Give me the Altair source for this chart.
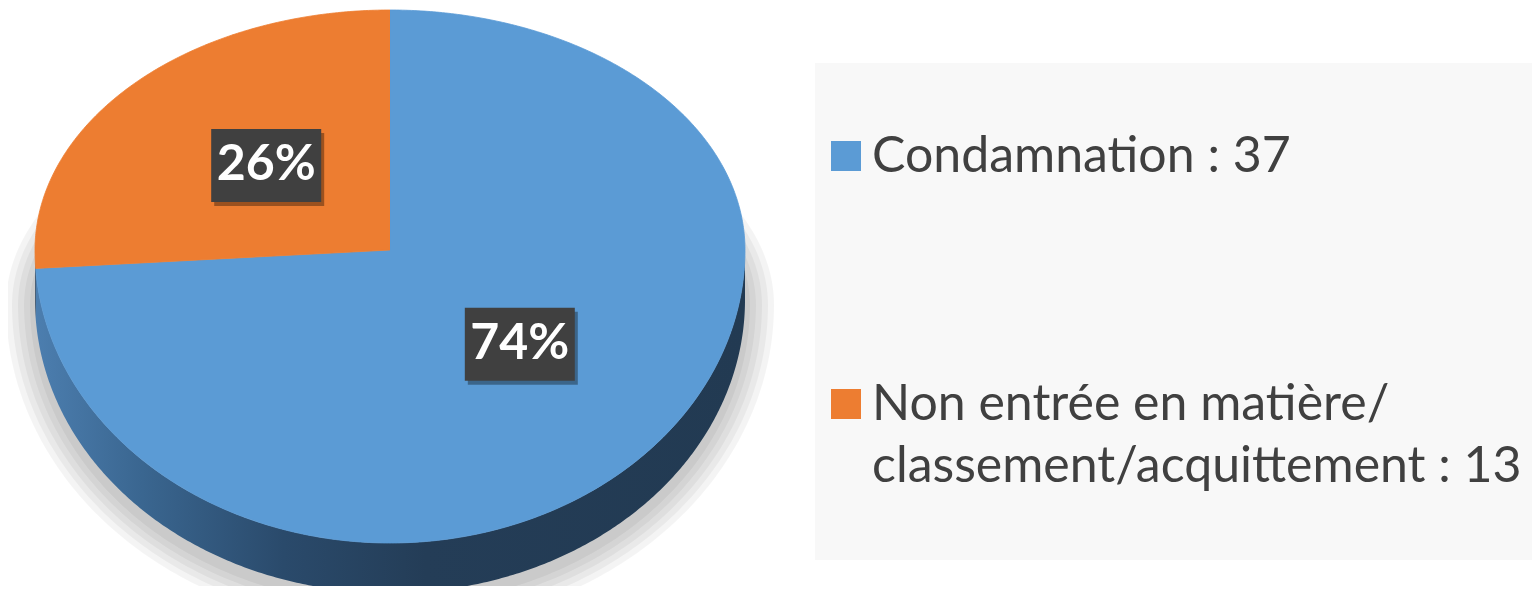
import math
import altair as alt
import pandas as pd

# ---------------- data ----------------
categories = ["Condamnation", "Non entrée en matière/\nclassement/acquittement"]
counts = [37, 13]
slice_colors = ["#5b9bd5", "#ed7d31"]

# ---------------- geometry (image pixel space) ----------------
CX, CY = 390.0, 250.0
RX, RY_TOP, RY_BOT = 355.0, 240.0, 293.0
DEPTH = 50.0
LABEL_FRAC = 0.49


def ell(theta_deg, rx=RX, ry_top=RY_TOP, ry_bot=RY_BOT, cx=CX, cy=CY):
    t = math.radians(theta_deg)
    c = math.cos(t)
    ry = ry_top if c > 0 else ry_bot
    return cx + rx * math.sin(t), cy - ry * c


total = sum(counts)
starts, ends = [], []
acc = 0.0
for v in counts:
    starts.append(acc / total * 360.0)
    acc += v
    ends.append(acc / total * 360.0)

# top faces
top_rows = []
for cat, a, b in zip(categories, starts, ends):
    top_rows.append({"cat": cat, "o": 0, "x": CX, "y": CY})
    n = max(2, int((b - a) * 2))
    for i in range(n + 1):
        x, y = ell(a + (b - a) * i / n)
        top_rows.append({"cat": cat, "o": i + 1, "x": x, "y": y})
top_df = pd.DataFrame(top_rows)

# visible side (front half: 90..270 degrees)
side_rows = []
for cat, a, b in zip(categories, starts, ends):
    lo, hi = max(a, 90.0), min(b, 270.0)
    if hi <= lo:
        continue
    n = max(2, int((hi - lo) * 2))
    o = 0
    for i in range(n + 1):
        x, y = ell(lo + (hi - lo) * i / n)
        side_rows.append({"cat": cat, "o": o, "x": x, "y": y}); o += 1
    for i in range(n + 1):
        x, y = ell(hi - (hi - lo) * i / n)
        side_rows.append({"cat": cat, "o": o, "x": x, "y": y + DEPTH}); o += 1
side_df = pd.DataFrame(side_rows)

# soft shadow: stacked translucent ellipses
shadow_rows = []
for k, e in enumerate([0, 6, 12, 18, 24]):
    for i in range(361):
        x, y = ell(i, rx=360 + e, ry_top=200 + e, ry_bot=300 + e, cy=305)
        shadow_rows.append({"k": k, "o": i, "x": x, "y": y})
shadow_df = pd.DataFrame(shadow_rows)

# percentage labels
lab_rows = []
for cat, v, a, b in zip(categories, counts, starts, ends):
    m = (a + b) / 2
    t = math.radians(m)
    c = math.cos(t)
    ry = RY_TOP if c > 0 else RY_BOT
    lab_rows.append({
        "cat": cat,
        "x": CX + LABEL_FRAC * RX * math.sin(t),
        "y": CY - LABEL_FRAC * ry * c,
        "pct": f"{round(v / total * 100)}%",
    })
lab_df = pd.DataFrame(lab_rows)

leg_df = pd.DataFrame({
    "cat": categories,
    "label": [f"{c} : {v}" for c, v in zip(categories, counts)],
})

# ---------------- scales ----------------
W, H = 1524, 578
xs = alt.Scale(domain=[8, 8 + W], nice=False, zero=False)
ys = alt.Scale(domain=[8, 8 + H], nice=False, zero=False, reverse=True)
X = alt.X("x:Q", scale=xs, axis=None)
Y = alt.Y("y:Q", scale=ys, axis=None)
fill_scale = alt.Scale(domain=categories, range=slice_colors)

shadow = alt.Chart(shadow_df).mark_line(
    fill="#000000", fillOpacity=0.045, strokeWidth=0
).encode(x=X, y=Y, detail="k:N", order="o:Q")

side = alt.Chart(side_df).mark_line(
    strokeWidth=0,
    fill=alt.Gradient(
        gradient="linear",
        x1=0, x2=1, y1=0, y2=0,
        stops=[
            alt.GradientStop(color="#4c7eaf", offset=0),
            alt.GradientStop(color="#3a6690", offset=0.15),
            alt.GradientStop(color="#2a4a6b", offset=0.35),
            alt.GradientStop(color="#243d57", offset=0.55),
            alt.GradientStop(color="#223a52", offset=1),
        ],
    ),
).encode(x=X, y=Y, detail="cat:N", order="o:Q")

top = alt.Chart(top_df).mark_line(strokeWidth=0.8).encode(
    x=X, y=Y,
    fill=alt.Fill("cat:N", scale=fill_scale, legend=None),
    stroke=alt.Stroke("cat:N", scale=fill_scale, legend=None),
    detail="cat:N",
    order="o:Q",
)

box_shadow = alt.Chart(lab_df).mark_rect(
    width=110, height=73, color="#000000", opacity=0.35, xOffset=6, yOffset=0
).encode(x=X, y=Y)

box = alt.Chart(lab_df).mark_rect(
    width=110, height=73, color="#404040", xOffset=3, yOffset=-4
).encode(x=X, y=Y)

pct = alt.Chart(lab_df).mark_text(
    font="Lato", fontSize=50, fontWeight="bold", color="white",
    align="center", baseline="middle", dx=3, dy=-4,
).encode(x=X, y=Y, text="pct:N")

# ---------------- legend ----------------
leg_bg = alt.Chart(leg_df).mark_rect(color="#f8f8f8").encode(
    x=alt.value(815 - 8), x2=alt.value(W), y=alt.value(63 - 8), y2=alt.value(560 - 8)
)
LY = alt.Y("cat:N", scale=alt.Scale(domain=categories, range=[156 - 8, 404 - 8], padding=0), axis=None)
leg_sym = alt.Chart(leg_df).mark_square(size=900, opacity=1).encode(
    x=alt.value(846 - 8), y=LY,
    color=alt.Color("cat:N", scale=fill_scale, legend=None),
)
leg_txt = alt.Chart(leg_df).mark_text(
    font="Lato", fontSize=50, color="#404040", align="left", baseline="alphabetic",
    dy=16, lineBreak="\n", lineHeight=62,
).encode(x=alt.value(872 - 8), y=LY, text="label:N")

chart = alt.layer(
    shadow, side, top, box_shadow, box, pct, leg_bg, leg_sym, leg_txt
).resolve_scale(y="independent").properties(
    width=W, height=H,
    autosize="none",
    padding=0,
    background="white",
).configure_view(stroke=None)

chart.save("out.html", embed_options={"renderer": "svg", "actions": False})
